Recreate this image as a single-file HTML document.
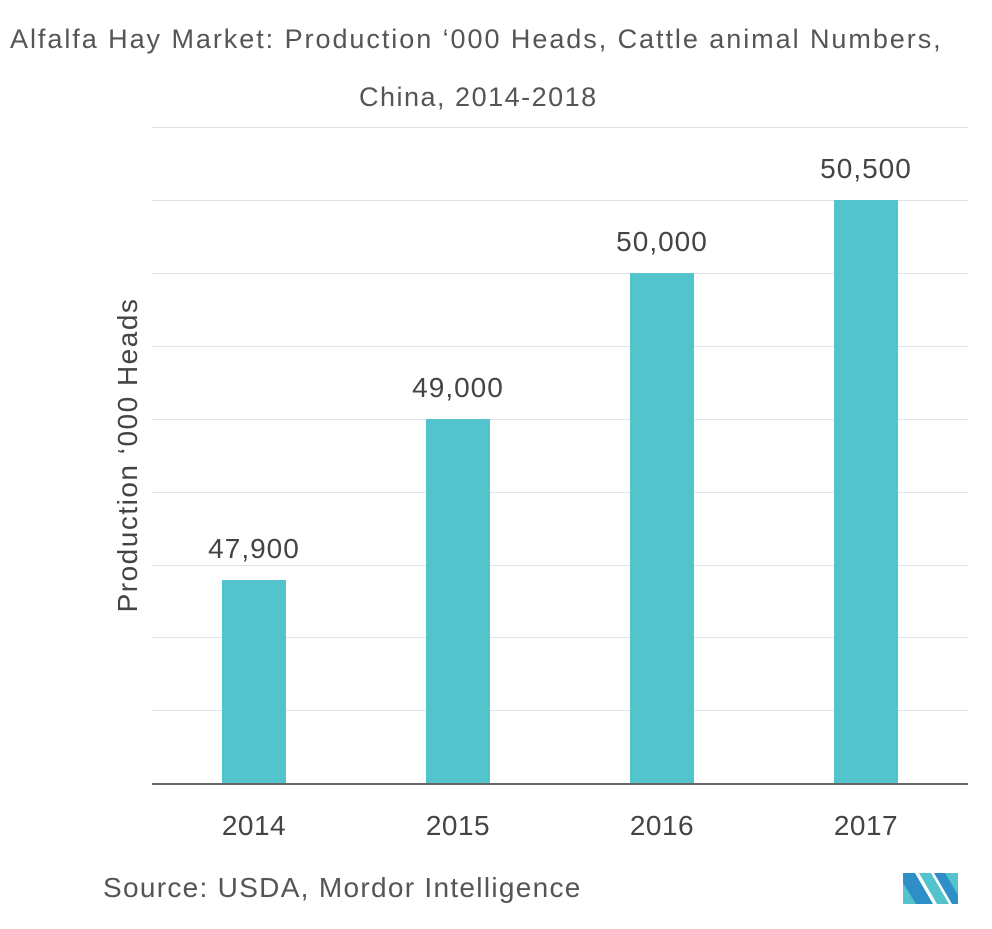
<!DOCTYPE html>
<html><head><style>
body{margin:0;width:992px;height:929px;background:#fff;font-family:"Liberation Sans",sans-serif;color:#555;position:relative;overflow:hidden}
.t{position:absolute;white-space:nowrap}
.g{position:absolute;left:152px;width:816px;height:1px;background:#dde3e8}
.b{position:absolute;width:64px;background:#53c4cb}
.v{position:absolute;width:160px;text-align:center;font-size:28px;color:#444;letter-spacing:1px}
.x{position:absolute;width:160px;text-align:center;font-size:28px;color:#444;top:810px;letter-spacing:0.5px}
</style></head><body>
<div class="t" style="left:10px;top:24px;font-size:27px;letter-spacing:1.95px">Alfalfa Hay Market: Production ‘000 Heads, Cattle animal Numbers,</div>
<div class="t" style="left:359px;top:82px;font-size:27px;letter-spacing:1.5px">China, 2014-2018</div>
<div class="g" style="top:127px"></div><div class="g" style="top:200px"></div><div class="g" style="top:273px"></div>
<div class="g" style="top:346px"></div><div class="g" style="top:419px"></div><div class="g" style="top:492px"></div>
<div class="g" style="top:565px"></div><div class="g" style="top:637px"></div><div class="g" style="top:710px"></div>
<div class="g" style="top:783px;height:2px;background:#666"></div>
<div class="b" style="left:222px;top:580px;height:203px"></div>
<div class="b" style="left:426px;top:419px;height:364px"></div>
<div class="b" style="left:630px;top:273px;height:510px"></div>
<div class="b" style="left:834px;top:200px;height:583px"></div>
<div class="v" style="left:174px;top:533px">47,900</div>
<div class="v" style="left:378px;top:372px">49,000</div>
<div class="v" style="left:582px;top:226px">50,000</div>
<div class="v" style="left:786px;top:153px">50,500</div>
<div class="x" style="left:174px">2014</div><div class="x" style="left:378px">2015</div>
<div class="x" style="left:582px">2016</div><div class="x" style="left:786px">2017</div>
<div class="t" style="left:128px;top:455px;font-size:28px;letter-spacing:1.5px;transform:translate(-50%,-50%) rotate(-90deg);color:#444">Production ‘000 Heads</div>
<div class="t" style="left:103px;top:872px;font-size:28px;letter-spacing:1.3px">Source: USDA, Mordor Intelligence</div>
<svg style="position:absolute;left:903px;top:873px" width="55" height="31" viewBox="0 0 55 31">
<polygon points="0,0 12,0 30,31 0,31" fill="#2e8ec7"/><polygon points="0,10 13,31 0,31" fill="#53c4cb"/>
<polygon points="16,0 28,0 46,31 34,31" fill="#53c4cb"/><polygon points="31,0 55,0 55,31 49,31" fill="#2e8ec7"/>
<polygon points="42,0 55,0 55,22" fill="#53c4cb"/>
</svg>
</body></html>
